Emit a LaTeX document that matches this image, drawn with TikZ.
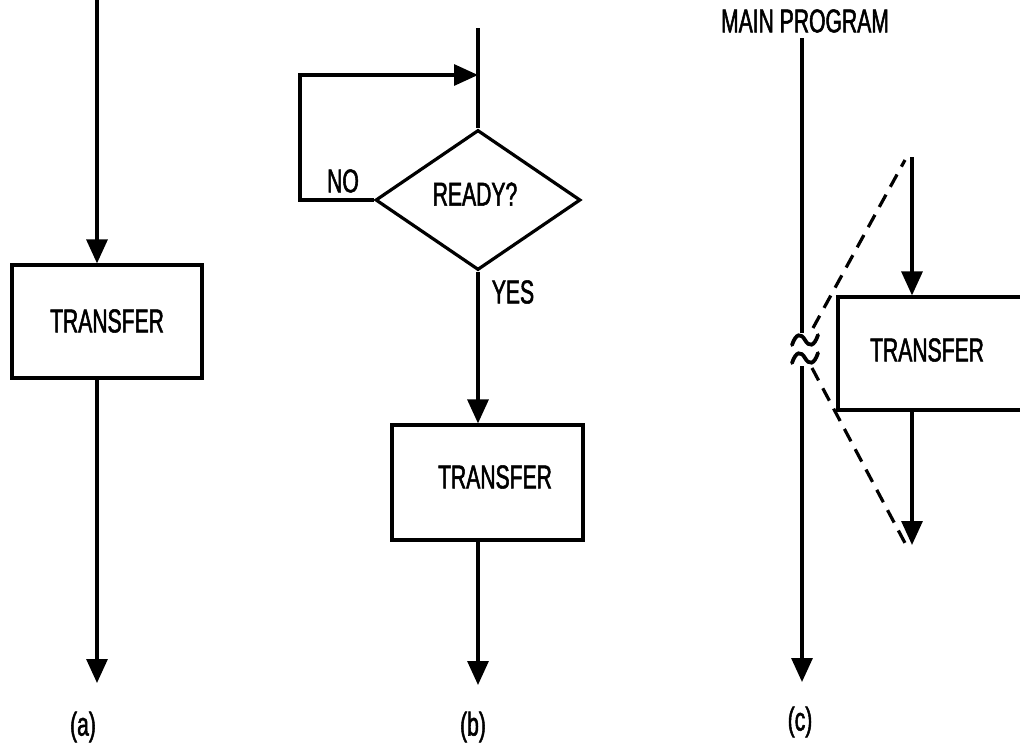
\documentclass[tikz,border=0pt]{standalone}
\usepackage{fontspec}
\setmainfont{Liberation Sans}[FakeStretch=0.64,FakeBold=1.6]
\usetikzlibrary{arrows.meta,shapes.geometric}
\begin{document}
\begin{tikzpicture}[x=1pt,y=-1pt,
  line width=3.2pt,
  every node/.style={font=\fontsize{33}{36}\selectfont, inner sep=0pt},
  arr/.style={-{Triangle[length=24pt,width=21pt]}},
  blk/.style={draw, rectangle},
  dec/.style={draw, diamond, minimum width=205pt, minimum height=140pt},
  dsh/.style={dash pattern=on 14pt off 9pt},
  brk/.style={line width=3.8pt, line cap=round}]
\useasboundingbox (0,0) rectangle (1020,742);

% ---------- (a) plain transfer ----------
\coordinate (atop) at (97,0);
\coordinate (aend) at (97,683);
\node[blk, minimum width=190pt, minimum height=113pt] (blka) at (107,321.5) {};
\node (ta) at (107,321) {TRANSFER};
\draw[arr] (atop) -- (97,0 |- blka.north);
\draw[arr] (97,0 |- blka.south) -- (aend);
\node (la) at (83,727) {(a)};

% ---------- (b) wait loop, then transfer ----------
\coordinate (btop) at (478,28);
\coordinate (bend) at (478,685);
\coordinate (lpa) at (300,200);
\coordinate (lpb) at (300,75);
\coordinate (lpc) at (478,75);
\node[dec] (ready) at (478,200) {};
\node (tready) at (475,194) {READY?};
\node (tno) at (343,181) {NO};
\node (tyes) at (513,292) {YES};
\node[blk, minimum width=191pt, minimum height=115pt] (blkb) at (487.5,482.5) {};
\node (tb) at (495,477) {TRANSFER};
\draw (btop) -- (ready.north);
\draw[arr] (ready.west) -- (lpa) -- (lpb) -- (lpc);
\draw[arr] (ready.south) -- (478,0 |- blkb.north);
\draw[arr] (478,0 |- blkb.south) -- (bend);
\node (lb) at (473,727) {(b)};

% ---------- (c) transfer as an interrupt of the main program ----------
\node (tmain) at (805,21) {MAIN PROGRAM};
\coordinate (mtop) at (802,38);
\coordinate (mbrk1) at (802,333);
\coordinate (mbrk2) at (802,366);
\coordinate (mend) at (802,682);
\draw (mtop) -- (mbrk1);
\draw[arr] (mbrk2) -- (mend);
% break marks on the main line
\draw[brk] (792,345) .. controls (796,333) and (801,333) .. (805,340)
           .. controls (809,347) and (814,347) .. (818,335);
\draw[brk] (792,363) .. controls (796,351) and (801,351) .. (805,358)
           .. controls (809,365) and (814,365) .. (818,353);

\begin{scope}
  \clip (0,0) rectangle (1020,742);
  \node[blk, minimum width=200pt, minimum height=113pt] (blkc) at (938,353.5) {};
\end{scope}
\node (tc) at (927,350) {TRANSFER};
\coordinate (ctop) at (912,157);
\coordinate (cend) at (912,545);
\draw[arr] (ctop) -- (912,0 |- blkc.north);
\draw[arr] (912,0 |- blkc.south) -- (cend);

% dashed expansion lines from the break
\coordinate (du1) at (813,328);
\coordinate (du2) at (905,160);
\coordinate (dl1) at (812,368);
\coordinate (dl2) at (905,543);
\draw[dsh] (du1) -- (du2);
\draw[dsh] (dl1) -- (dl2);
\node (lc) at (800,722) {(c)};
\end{tikzpicture}
\end{document}
